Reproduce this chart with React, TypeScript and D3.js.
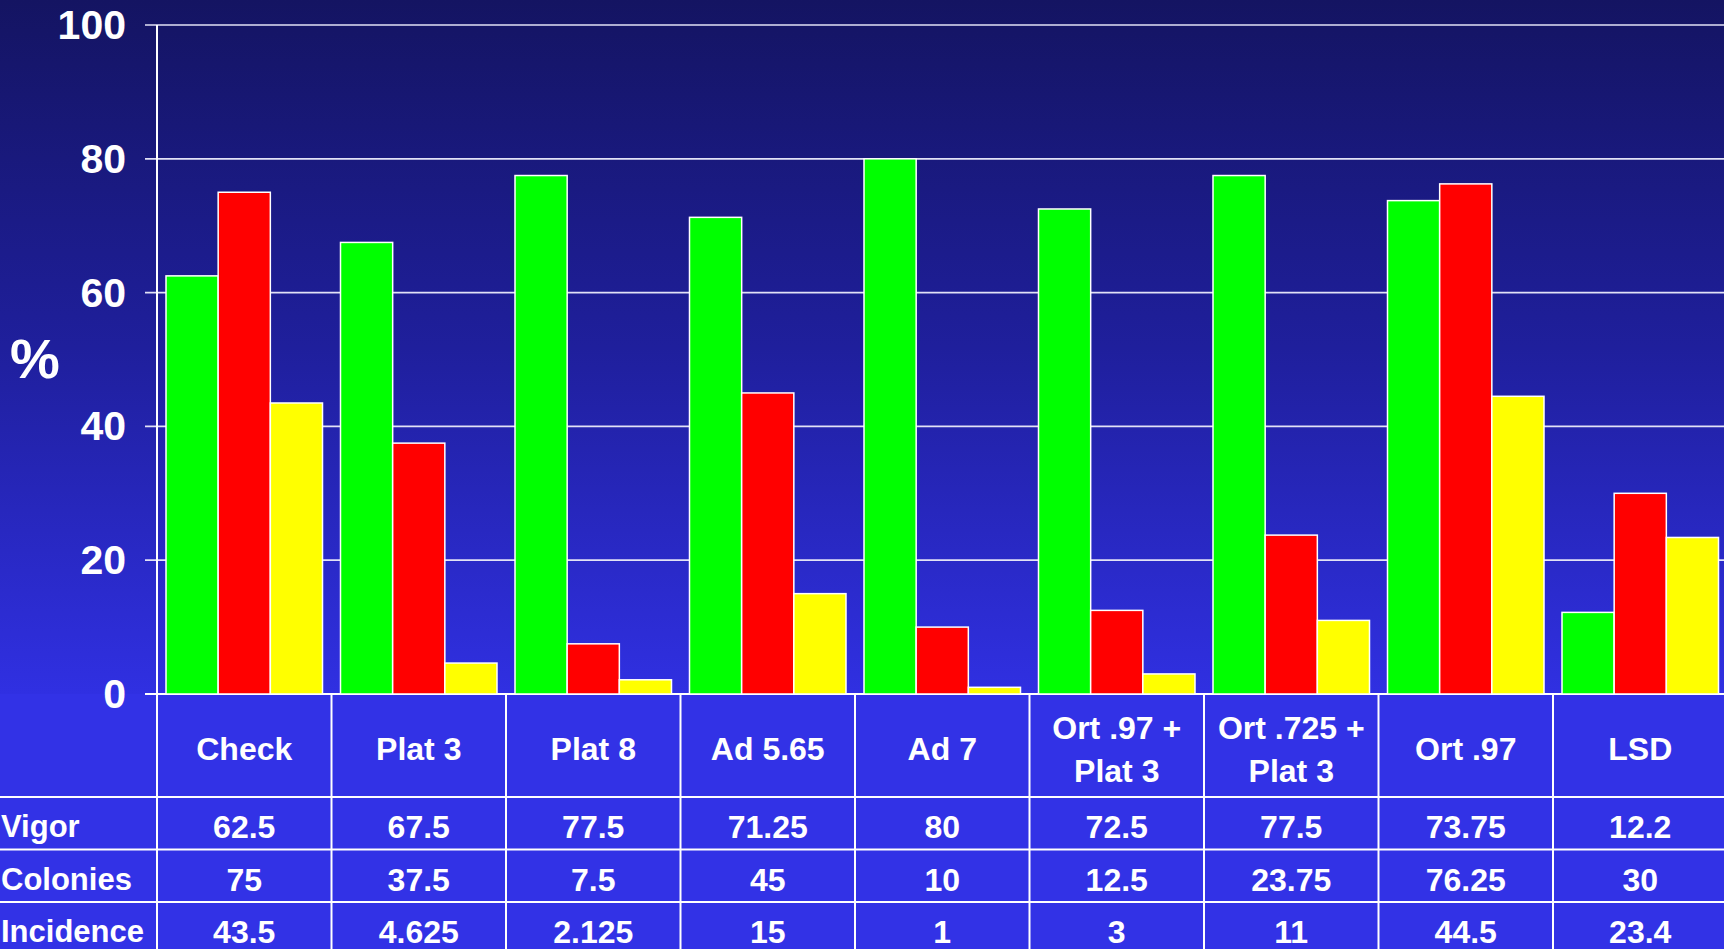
import React from "react";
import * as d3 from "d3";

const categories = ["Check", "Plat 3", "Plat 8", "Ad 5.65", "Ad 7", "Ort .97 + Plat 3", "Ort .725 + Plat 3", "Ort .97", "LSD"];
const categoryLines = [["Check"], ["Plat 3"], ["Plat 8"], ["Ad 5.65"], ["Ad 7"], ["Ort .97 +", "Plat 3"], ["Ort .725 +", "Plat 3"], ["Ort .97"], ["LSD"]];
const seriesNames = ["Vigor", "Colonies", "Incidence"];
const vigor = [62.5, 67.5, 77.5, 71.25, 80, 72.5, 77.5, 73.75, 12.2];
const colonies = [75, 37.5, 7.5, 45, 10, 12.5, 23.75, 76.25, 30];
const incidence = [43.5, 4.625, 2.125, 15, 1, 3, 11, 44.5, 23.4];
const yTicks = [0, 20, 40, 60, 80, 100];

const colors = ["#00ff00", "#ff0000", "#ffff00"];
const font = "'Liberation Sans', Arial, sans-serif";

export default function App() {
  const W = 1724, H = 949;
  const left = 157, top = 25, zero = 694;
  const colW = 174.5;
  const rowH = 52.5;
  const headerBottom = 797;
  const values = [vigor, colonies, incidence];

  const x0 = d3.scaleBand<string>().domain(categories).range([left, left + colW * categories.length]);
  const x1 = d3.scaleBand<string>().domain(seriesNames).range([9, colW - 9]);
  const y = d3.scaleLinear().domain([0, 100]).range([zero, top]);

  return (
    <svg width={W} height={H} style={{ position: "absolute", left: 0, top: 0, display: "block" }} fontFamily={font} fontWeight="bold">
      <defs>
        <linearGradient id="bg" x1="0" y1="0" x2="0" y2={zero} gradientUnits="userSpaceOnUse">
          <stop offset="0" stopColor="#141462" />
          <stop offset="0.5" stopColor="#1f1f9c" />
          <stop offset="1" stopColor="#3030e2" />
        </linearGradient>
      </defs>
      <rect x={0} y={0} width={W} height={zero} fill="url(#bg)" />
      <rect x={0} y={zero} width={W} height={H - zero} fill="#3232e6" />

      {/* gridlines and ticks */}
      {yTicks.map((t) => (
        <g key={t}>
          <line x1={left - 12} x2={W} y1={y(t)} y2={y(t)} stroke={t === 0 ? "#ffffff" : "#e2e2f6"} strokeWidth={t === 0 ? 2 : 1.7} />
          <text x={126} y={y(t) + 14} fill="#fff" fontSize={41} textAnchor="end">{t}</text>
        </g>
      ))}
      <text x={35} y={378} fill="#fff" fontSize={56} textAnchor="middle">%</text>

      {/* bars */}
      {categories.map((c, i) => (
        <g key={c} transform={`translate(${x0(c)},0)`}>
          {seriesNames.map((s, j) => (
            <rect key={s} x={x1(s)} y={y(values[j][i])} width={x1.bandwidth()} height={zero - y(values[j][i])}
              fill={colors[j]} stroke="#ffffff" strokeWidth={1.5} />
          ))}
        </g>
      ))}

      {/* axis line */}
      <line x1={left} x2={left} y1={top} y2={H} stroke="#fff" strokeWidth={2} />

      {/* table */}
      {seriesNames.map((s, j) => (
        <line key={s} x1={0} x2={W} y1={headerBottom + j * rowH} y2={headerBottom + j * rowH} stroke="#fff" strokeWidth={2} />
      ))}
      {categories.map((c, i) => (
        <g key={c}>
          {i > 0 && <line x1={x0(c)} x2={x0(c)} y1={zero} y2={H} stroke="#fff" strokeWidth={2} />}
          {categoryLines[i].map((ln, k, arr) => {
            const cy = arr.length === 1 ? 760 : 739 + k * 43;
            return (
              <text key={k} x={(x0(c) as number) + colW / 2} y={cy} fill="#fff" fontSize={32} textAnchor="middle">{ln}</text>
            );
          })}
          {values.map((v, j) => (
            <text key={j} x={(x0(c) as number) + colW / 2} y={headerBottom + j * rowH + 41} fill="#fff" fontSize={32} textAnchor="middle">{v[i]}</text>
          ))}
        </g>
      ))}
      {seriesNames.map((s, j) => (
        <text key={s} x={1} y={headerBottom + j * rowH + 40} fill="#fff" fontSize={31}>{s}</text>
      ))}
    </svg>
  );
}
